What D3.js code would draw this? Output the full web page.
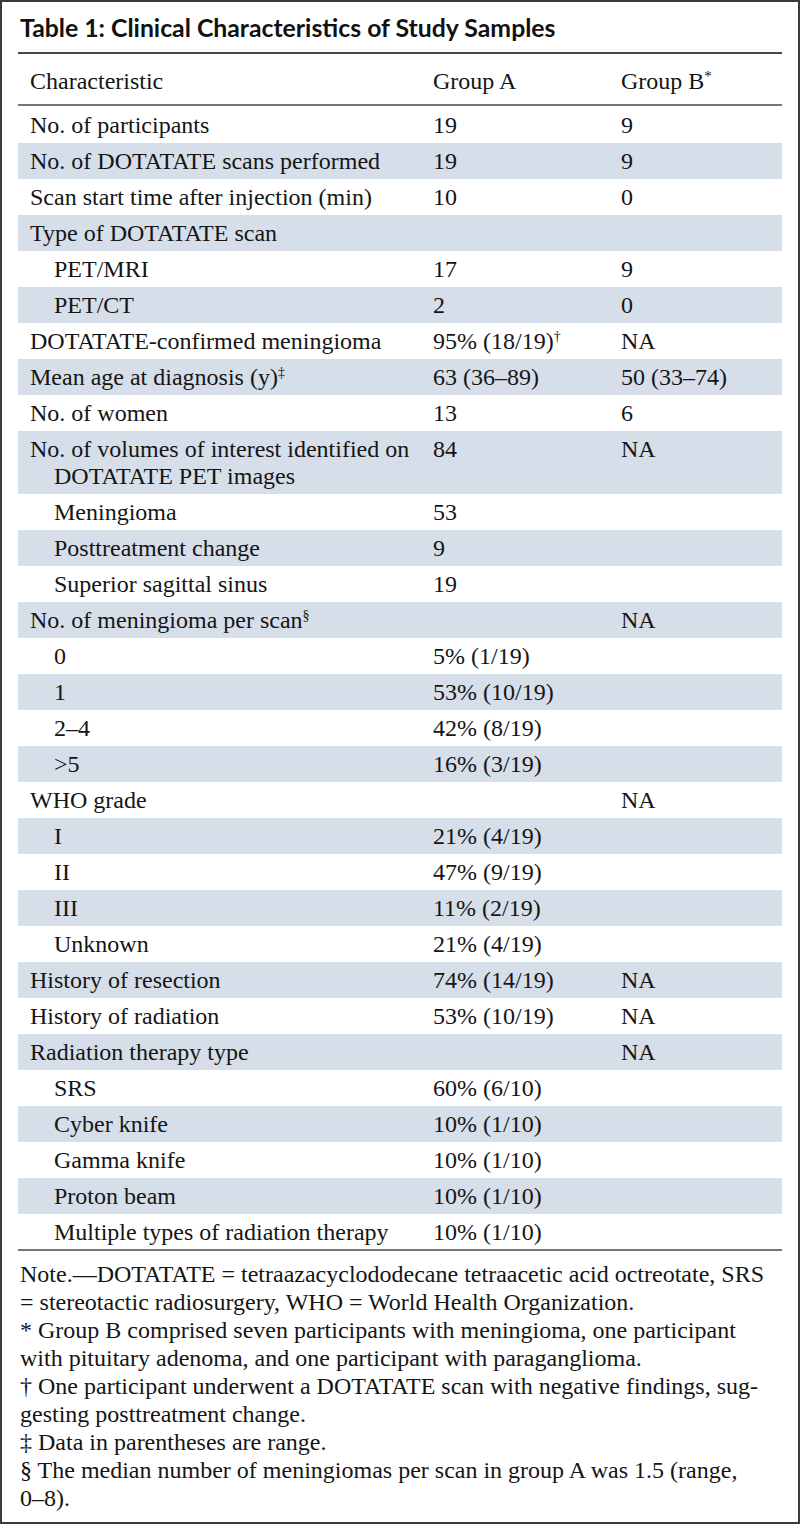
<!DOCTYPE html>
<html lang="en">
<head>
<meta charset="UTF-8">
<title>Table 1: Clinical Characteristics of Study Samples</title>
<script src="https://cdn.jsdelivr.net/npm/d3@7/dist/d3.min.js"></script>
<style>
  body { margin: 0; background: #fff; }
  svg { display: block; }
  .title { font-family: Lato, "Open Sans", sans-serif; font-weight: bold; font-size: 24.8px; fill: #111; }
</style>
</head>
<body>
<svg id="chart" width="800" height="1524"></svg>
<script>
// table content
const title = "Table 1: Clinical Characteristics of Study Samples";
const headers = [["Characteristic", ""], ["Group A", ""], ["Group B", "*"]];

// [label, superscript, indent level]
const labels = [
  ["No. of participants", "", 0],
  ["No. of DOTATATE scans performed", "", 0],
  ["Scan start time after injection (min)", "", 0],
  ["Type of DOTATATE scan", "", 0],
  ["PET/MRI", "", 1],
  ["PET/CT", "", 1],
  ["DOTATATE-confirmed meningioma", "", 0],
  ["Mean age at diagnosis (y)", "‡", 0],
  ["No. of women", "", 0],
  ["No. of volumes of interest identified on|DOTATATE PET images", "", 0],
  ["Meningioma", "", 1],
  ["Posttreatment change", "", 1],
  ["Superior sagittal sinus", "", 1],
  ["No. of meningioma per scan", "§", 0],
  ["0", "", 1],
  ["1", "", 1],
  ["2–4", "", 1],
  [">5", "", 1],
  ["WHO grade", "", 0],
  ["I", "", 1],
  ["II", "", 1],
  ["III", "", 1],
  ["Unknown", "", 1],
  ["History of resection", "", 0],
  ["History of radiation", "", 0],
  ["Radiation therapy type", "", 0],
  ["SRS", "", 1],
  ["Cyber knife", "", 1],
  ["Gamma knife", "", 1],
  ["Proton beam", "", 1],
  ["Multiple types of radiation therapy", "", 1]
];

const groupA = [
  "19", "19", "10", "", "17", "2", "95% (18/19)†", "63 (36–89)", "13", "84",
  "53", "9", "19", "", "5% (1/19)", "53% (10/19)", "42% (8/19)", "16% (3/19)",
  "", "21% (4/19)", "47% (9/19)", "11% (2/19)", "21% (4/19)",
  "74% (14/19)", "53% (10/19)", "", "60% (6/10)", "10% (1/10)", "10% (1/10)",
  "10% (1/10)", "10% (1/10)"
];

const groupB = [
  "9", "9", "0", "", "9", "0", "NA", "50 (33–74)", "6", "NA",
  "", "", "", "NA", "", "", "", "",
  "NA", "", "", "", "",
  "NA", "NA", "NA", "", "", "", "", ""
];

const notes = [
  "Note.—DOTATATE = tetraazacyclododecane tetraacetic acid octreotate, SRS",
  "= stereotactic radiosurgery, WHO = World Health Organization.",
  "* Group B comprised seven participants with meningioma, one participant",
  "with pituitary adenoma, and one participant with paraganglioma.",
  "† One participant underwent a DOTATATE scan with negative findings, sug-",
  "gesting posttreatment change.",
  "‡ Data in parentheses are range.",
  "§ The median number of meningiomas per scan in group A was 1.5 (range,",
  "0–8)."
];

// layout
const W = 800, H = 1524;
const left = 18, right = 782;
const rowH = 36, extraLine = 27;
const tableTop = 107;
const colX = d3.scaleOrdinal().domain(["label", "A", "B"]).range([30, 433, 621]);
const indentW = 24;
const serif = "'Liberation Serif', 'Times New Roman', Times, 'DejaVu Serif', 'Noto Serif', serif";

const svg = d3.select("#chart");

svg.append("rect")
  .attr("x", 1).attr("y", 1)
  .attr("width", W - 2).attr("height", H - 2)
  .attr("fill", "#fff").attr("stroke", "#3a3a3a").attr("stroke-width", 2);

svg.append("text").attr("class", "title")
  .attr("x", 20).attr("y", 37)
  .text(title);

function rule(y, w) {
  svg.append("line")
    .attr("x1", left).attr("x2", right)
    .attr("y1", y).attr("y2", y)
    .attr("stroke", "#474747").attr("stroke-width", w);
}

function cellText(sel) {
  return sel.style("font-family", serif).style("font-size", "24px").style("fill", "#151515");
}

rule(53, 2.2);

// header
const hdr = cellText(svg.selectAll("text.hdr").data(headers).join("text")
  .attr("class", "hdr")
  .attr("x", (d, i) => colX(["label", "A", "B"][i]))
  .attr("y", 89));
hdr.append("tspan").text(d => d[0]);
hdr.append("tspan").attr("dy", -8).style("font-size", "15px").text(d => d[1]);

rule(105, 1.6);

// rows
const rows = labels.map((d, i) => {
  const lines = d[0].split("|");
  return { lines, sup: d[1], indent: d[2], a: groupA[i], b: groupB[i], i };
});
let acc = tableTop;
rows.forEach(r => {
  r.h = rowH + extraLine * (r.lines.length - 1);
  r.y = acc;
  acc += r.h;
});
const tableBottom = acc;

const g = svg.append("g");
const row = g.selectAll("g.row").data(rows).join("g")
  .attr("class", "row")
  .attr("transform", d => `translate(0,${d.y})`);

row.filter(d => d.i % 2 === 1).append("rect")
  .attr("x", left).attr("width", right - left)
  .attr("height", d => d.h)
  .attr("fill", "#d6dee9");

const lab = cellText(row.append("text")
  .attr("x", d => colX("label") + d.indent * indentW)
  .attr("y", 26));
lab.each(function (d) {
  const t = d3.select(this);
  d.lines.forEach((ln, k) => {
    t.append("tspan")
      .attr("x", colX("label") + (k > 0 ? 1 : d.indent) * indentW)
      .attr("dy", k === 0 ? 0 : extraLine)
      .text(ln);
  });
  if (d.sup) t.append("tspan").attr("dy", -8).style("font-size", "14px").text(d.sup);
});

function valueText(sel, key, col) {
  cellText(sel.append("text")
    .attr("x", colX(col)).attr("y", 26))
    .each(function (d) {
      const v = d[key];
      const m = v.match(/^(.*?)([†‡§*]?)$/);
      d3.select(this).append("tspan").text(m[1]);
      if (m[2]) d3.select(this).append("tspan").attr("dy", -8).style("font-size", "14px").text(m[2]);
    });
}
valueText(row, "a", "A");
valueText(row, "b", "B");

rule(tableBottom, 1.6);

// notes
svg.selectAll("text.note").data(notes).join("text")
  .attr("class", "note")
  .style("font-family", serif).style("font-size", "24px").style("fill", "#151515")
  .attr("x", 20)
  .attr("y", (d, i) => tableBottom + 32 + i * 28)
  .text(d => d);
</script>
</body>
</html>
